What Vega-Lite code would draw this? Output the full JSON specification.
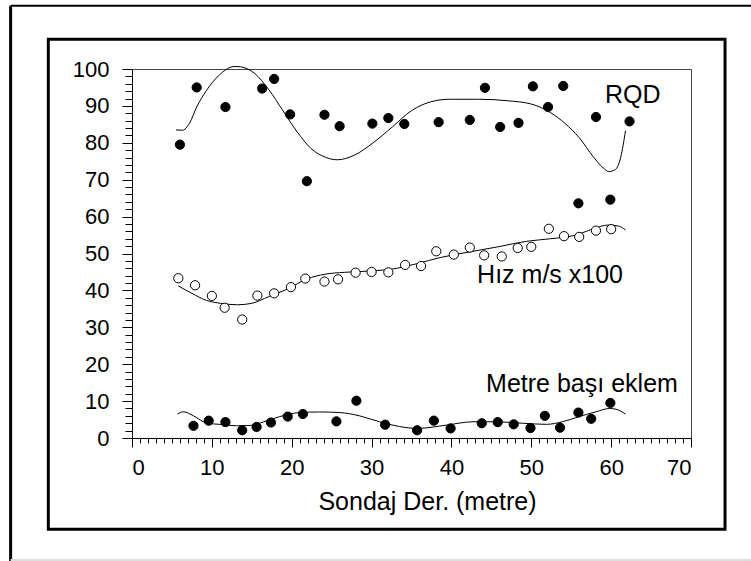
{
  "$schema": "https://vega.github.io/schema/vega-lite/v6.json",
  "width": 559,
  "height": 369,
  "autosize": {"type": "none"},
  "padding": {"left": 132, "top": 69, "right": 60, "bottom": 123},
  "background": "white",
  "config": {
    "view": {"stroke": "#444", "strokeWidth": 1},
    "font": "Liberation Sans",
    "axis": {"grid": false, "domainColor": "black", "tickColor": "black", "labelColor": "black", "titleColor": "black", "labelFont": "Liberation Sans", "titleFont": "Liberation Sans"}
  },
  "datasets": {
    "points": [
      {"series": "RQD", "x": 6.0, "y": 79.5}, {"series": "RQD", "x": 8.1, "y": 95.0}, {"series": "RQD", "x": 11.7, "y": 89.7},
      {"series": "RQD", "x": 16.3, "y": 94.7}, {"series": "RQD", "x": 17.8, "y": 97.3}, {"series": "RQD", "x": 19.8, "y": 87.7},
      {"series": "RQD", "x": 21.9, "y": 69.6}, {"series": "RQD", "x": 24.1, "y": 87.6}, {"series": "RQD", "x": 26.0, "y": 84.5},
      {"series": "RQD", "x": 30.1, "y": 85.2}, {"series": "RQD", "x": 32.1, "y": 86.7}, {"series": "RQD", "x": 34.1, "y": 85.1},
      {"series": "RQD", "x": 38.4, "y": 85.6}, {"series": "RQD", "x": 42.3, "y": 86.2}, {"series": "RQD", "x": 44.2, "y": 94.9},
      {"series": "RQD", "x": 46.1, "y": 84.3}, {"series": "RQD", "x": 48.4, "y": 85.4}, {"series": "RQD", "x": 50.2, "y": 95.3},
      {"series": "RQD", "x": 52.1, "y": 89.7}, {"series": "RQD", "x": 54.0, "y": 95.4}, {"series": "RQD", "x": 55.9, "y": 63.6},
      {"series": "RQD", "x": 58.1, "y": 87.0}, {"series": "RQD", "x": 59.9, "y": 64.6}, {"series": "RQD", "x": 62.3, "y": 85.8},
      {"series": "Hiz", "x": 5.8, "y": 43.3}, {"series": "Hiz", "x": 7.9, "y": 41.4}, {"series": "Hiz", "x": 10.0, "y": 38.5},
      {"series": "Hiz", "x": 11.6, "y": 35.3}, {"series": "Hiz", "x": 13.8, "y": 32.1}, {"series": "Hiz", "x": 15.7, "y": 38.6},
      {"series": "Hiz", "x": 17.8, "y": 39.2}, {"series": "Hiz", "x": 19.9, "y": 40.9}, {"series": "Hiz", "x": 21.7, "y": 43.2},
      {"series": "Hiz", "x": 24.1, "y": 42.4}, {"series": "Hiz", "x": 25.8, "y": 43.0}, {"series": "Hiz", "x": 28.0, "y": 44.8},
      {"series": "Hiz", "x": 30.0, "y": 45.0}, {"series": "Hiz", "x": 32.1, "y": 44.9}, {"series": "Hiz", "x": 34.2, "y": 46.9},
      {"series": "Hiz", "x": 36.2, "y": 46.6}, {"series": "Hiz", "x": 38.1, "y": 50.6}, {"series": "Hiz", "x": 40.3, "y": 49.7},
      {"series": "Hiz", "x": 42.3, "y": 51.6}, {"series": "Hiz", "x": 44.1, "y": 49.5}, {"series": "Hiz", "x": 46.3, "y": 49.2},
      {"series": "Hiz", "x": 48.3, "y": 51.5}, {"series": "Hiz", "x": 50.0, "y": 51.8}, {"series": "Hiz", "x": 52.2, "y": 56.7},
      {"series": "Hiz", "x": 54.1, "y": 54.7}, {"series": "Hiz", "x": 56.0, "y": 54.5}, {"series": "Hiz", "x": 58.1, "y": 56.2},
      {"series": "Hiz", "x": 60.0, "y": 56.6},
      {"series": "Metre", "x": 7.7, "y": 3.3}, {"series": "Metre", "x": 9.6, "y": 4.7}, {"series": "Metre", "x": 11.7, "y": 4.3},
      {"series": "Metre", "x": 13.8, "y": 2.1}, {"series": "Metre", "x": 15.6, "y": 3.0}, {"series": "Metre", "x": 17.4, "y": 4.2},
      {"series": "Metre", "x": 19.5, "y": 5.8}, {"series": "Metre", "x": 21.4, "y": 6.5}, {"series": "Metre", "x": 25.6, "y": 4.5},
      {"series": "Metre", "x": 28.1, "y": 10.1}, {"series": "Metre", "x": 31.7, "y": 3.6}, {"series": "Metre", "x": 35.7, "y": 2.1},
      {"series": "Metre", "x": 37.8, "y": 4.7}, {"series": "Metre", "x": 39.9, "y": 2.6}, {"series": "Metre", "x": 43.8, "y": 4.0},
      {"series": "Metre", "x": 45.8, "y": 4.3}, {"series": "Metre", "x": 47.8, "y": 3.7}, {"series": "Metre", "x": 49.9, "y": 2.7},
      {"series": "Metre", "x": 51.7, "y": 6.0}, {"series": "Metre", "x": 53.6, "y": 2.8}, {"series": "Metre", "x": 55.9, "y": 6.9},
      {"series": "Metre", "x": 57.5, "y": 5.2}, {"series": "Metre", "x": 59.9, "y": 9.5}
    ],
    "curves": [
      {"series": "RQD", "x": 5.5, "y": 83.5}, {"series": "RQD", "x": 6.3, "y": 83.4}, {"series": "RQD", "x": 7.2, "y": 85.3},
      {"series": "RQD", "x": 8.1, "y": 89.7}, {"series": "RQD", "x": 9.3, "y": 94.1}, {"series": "RQD", "x": 10.8, "y": 98.1},
      {"series": "RQD", "x": 12.9, "y": 100.7}, {"series": "RQD", "x": 13.6, "y": 100.6}, {"series": "RQD", "x": 15.3, "y": 98.9},
      {"series": "RQD", "x": 17.1, "y": 94.5}, {"series": "RQD", "x": 18.9, "y": 88.7}, {"series": "RQD", "x": 20.7, "y": 82.9},
      {"series": "RQD", "x": 22.4, "y": 78.5}, {"series": "RQD", "x": 24.2, "y": 76.1}, {"series": "RQD", "x": 25.7, "y": 75.4},
      {"series": "RQD", "x": 27.8, "y": 76.6}, {"series": "RQD", "x": 30.2, "y": 80.0}, {"series": "RQD", "x": 32.6, "y": 84.3},
      {"series": "RQD", "x": 35.0, "y": 88.7}, {"series": "RQD", "x": 37.4, "y": 91.1}, {"series": "RQD", "x": 39.8, "y": 91.8},
      {"series": "RQD", "x": 43.4, "y": 91.8}, {"series": "RQD", "x": 47.0, "y": 91.4}, {"series": "RQD", "x": 50.0, "y": 90.5},
      {"series": "RQD", "x": 52.4, "y": 88.2}, {"series": "RQD", "x": 54.2, "y": 85.3}, {"series": "RQD", "x": 56.0, "y": 81.4},
      {"series": "RQD", "x": 57.8, "y": 76.1}, {"series": "RQD", "x": 59.0, "y": 73.2}, {"series": "RQD", "x": 59.7, "y": 72.2},
      {"series": "RQD", "x": 60.5, "y": 72.7}, {"series": "RQD", "x": 61.2, "y": 76.1}, {"series": "RQD", "x": 61.8, "y": 83.3},
      {"series": "Hiz", "x": 5.8, "y": 41.2}, {"series": "Hiz", "x": 7.5, "y": 39.2}, {"series": "Hiz", "x": 9.3, "y": 37.3},
      {"series": "Hiz", "x": 11.1, "y": 36.5}, {"series": "Hiz", "x": 13.2, "y": 36.1}, {"series": "Hiz", "x": 15.0, "y": 36.5},
      {"series": "Hiz", "x": 17.1, "y": 38.3}, {"series": "Hiz", "x": 19.5, "y": 40.4}, {"series": "Hiz", "x": 21.9, "y": 43.1},
      {"series": "Hiz", "x": 24.2, "y": 44.4}, {"series": "Hiz", "x": 26.6, "y": 44.9}, {"series": "Hiz", "x": 30.2, "y": 45.3},
      {"series": "Hiz", "x": 32.6, "y": 45.8}, {"series": "Hiz", "x": 35.6, "y": 47.2}, {"series": "Hiz", "x": 38.6, "y": 48.9},
      {"series": "Hiz", "x": 42.2, "y": 50.4}, {"series": "Hiz", "x": 45.8, "y": 51.8}, {"series": "Hiz", "x": 49.4, "y": 53.3},
      {"series": "Hiz", "x": 52.4, "y": 54.0}, {"series": "Hiz", "x": 55.4, "y": 54.9}, {"series": "Hiz", "x": 57.8, "y": 56.7},
      {"series": "Hiz", "x": 59.6, "y": 57.7}, {"series": "Hiz", "x": 60.8, "y": 57.5}, {"series": "Hiz", "x": 61.8, "y": 56.4},
      {"series": "Metre", "x": 5.7, "y": 6.5}, {"series": "Metre", "x": 6.45, "y": 7.1}, {"series": "Metre", "x": 7.7, "y": 6.0},
      {"series": "Metre", "x": 9.4, "y": 4.0}, {"series": "Metre", "x": 11.0, "y": 3.7}, {"series": "Metre", "x": 13.1, "y": 3.3},
      {"series": "Metre", "x": 14.8, "y": 3.4}, {"series": "Metre", "x": 16.5, "y": 4.4}, {"series": "Metre", "x": 18.5, "y": 5.8},
      {"series": "Metre", "x": 21.0, "y": 6.9}, {"series": "Metre", "x": 23.5, "y": 7.05}, {"series": "Metre", "x": 26.0, "y": 6.9},
      {"series": "Metre", "x": 28.5, "y": 6.0}, {"series": "Metre", "x": 31.0, "y": 4.4}, {"series": "Metre", "x": 33.5, "y": 3.1},
      {"series": "Metre", "x": 35.8, "y": 2.6}, {"series": "Metre", "x": 39.4, "y": 3.5}, {"series": "Metre", "x": 42.7, "y": 4.4},
      {"series": "Metre", "x": 45.6, "y": 4.4}, {"series": "Metre", "x": 48.9, "y": 4.0}, {"series": "Metre", "x": 51.9, "y": 3.7},
      {"series": "Metre", "x": 53.9, "y": 4.4}, {"series": "Metre", "x": 56.0, "y": 5.8}, {"series": "Metre", "x": 58.1, "y": 7.1},
      {"series": "Metre", "x": 59.8, "y": 8.0}, {"series": "Metre", "x": 60.6, "y": 7.8}, {"series": "Metre", "x": 61.8, "y": 6.5}
    ],
    "labels": [
      {"text": "RQD", "x": 62.7, "y": 90.8},
      {"text": "Hız m/s x100", "x": 52.35, "y": 42.0},
      {"text": "Metre başı eklem", "x": 56.35, "y": 12.6}
    ]
  },
  "layer": [
    {
      "data": {"values": [{}]},
      "mark": {"type": "rect", "fill": "transparent", "stroke": "black", "strokeWidth": 3},
      "encoding": {
        "x": {"datum": -10.48, "type": "quantitative", "scale": {"domain": [0, 70], "nice": false, "zero": false}, "axis": null},
        "x2": {"datum": 74.26},
        "y": {"datum": 108.05, "type": "quantitative", "scale": {"domain": [0, 100], "nice": false, "zero": false}, "axis": null},
        "y2": {"datum": -24.74}
      }
    },
    {
      "data": {"values": [{}]},
      "mark": {"type": "rule", "stroke": "black", "strokeWidth": 3},
      "encoding": {
        "x": {"datum": -15.2, "type": "quantitative", "axis": null},
        "y": {"datum": 117.15, "type": "quantitative", "axis": null},
        "y2": {"datum": -34}
      }
    },
    {
      "data": {"values": [{}]},
      "mark": {"type": "rule", "stroke": "black", "strokeWidth": 2},
      "encoding": {
        "x": {"datum": -15.2, "type": "quantitative", "axis": null},
        "x2": {"datum": 78},
        "y": {"datum": 117.15, "type": "quantitative", "axis": null}
      }
    },
    {
      "data": {"values": [{}]},
      "mark": {"type": "rule", "stroke": "#dddddd", "strokeWidth": 2},
      "encoding": {
        "x": {"datum": -15.2, "type": "quantitative", "axis": null},
        "x2": {"datum": 78},
        "y": {"datum": -33.06, "type": "quantitative", "axis": null}
      }
    },
    {
      "data": {"name": "curves"},
      "mark": {"type": "line", "interpolate": "monotone", "stroke": "black", "strokeWidth": 1},
      "encoding": {
        "x": {"field": "x", "type": "quantitative", "axis": {"orient": "bottom", "values": [0,1,2,3,4,5,6,7,8,9,10,11,12,13,14,15,16,17,18,19,20,21,22,23,24,25,26,27,28,29,30,31,32,33,34,35,36,37,38,39,40,41,42,43,44,45,46,47,48,49,50,51,52,53,54,55,56,57,58,59,60,61,62,63,64,65,66,67,68,69,70], "tickSize": 5, "labels": false, "title": null, "domain": true}},
        "y": {"field": "y", "type": "quantitative", "axis": {"orient": "left", "values": [0,2,4,6,8,10,12,14,16,18,20,22,24,26,28,30,32,34,36,38,40,42,44,46,48,50,52,54,56,58,60,62,64,66,68,70,72,74,76,78,80,82,84,86,88,90,92,94,96,98,100], "tickSize": 7, "labels": false, "title": null, "domain": true}},
        "detail": {"field": "series"}
      }
    },
    {
      "data": {"name": "points"},
      "mark": {"type": "point", "shape": "circle", "filled": true, "size": 85, "stroke": "black", "strokeWidth": 1, "opacity": 1},
      "encoding": {
        "x": {"field": "x", "type": "quantitative", "axis": {"orient": "bottom", "values": [0,10,20,30,40,50,60,70], "tickSize": 9, "labelFontSize": 22, "labelPadding": 10, "title": "Sondaj Der. (metre)", "titleFontSize": 25, "titleFontWeight": "normal", "titlePadding": 11, "titleX": 295}},
        "y": {"field": "y", "type": "quantitative", "axis": {"orient": "left", "values": [0,10,20,30,40,50,60,70,80,90,100], "tickSize": 10, "labelFontSize": 22, "labelPadding": 13, "title": null}},
        "fill": {"field": "series", "type": "nominal", "scale": {"domain": ["RQD", "Hiz", "Metre"], "range": ["black", "white", "black"]}, "legend": null}
      }
    },
    {
      "data": {"name": "labels"},
      "mark": {"type": "text", "fontSize": 25, "align": "center", "baseline": "alphabetic", "color": "black", "font": "Liberation Sans"},
      "encoding": {
        "x": {"field": "x", "type": "quantitative", "axis": null},
        "y": {"field": "y", "type": "quantitative", "axis": null},
        "text": {"field": "text"}
      }
    }
  ],
  "resolve": {"axis": {"x": "independent", "y": "independent"}}
}
